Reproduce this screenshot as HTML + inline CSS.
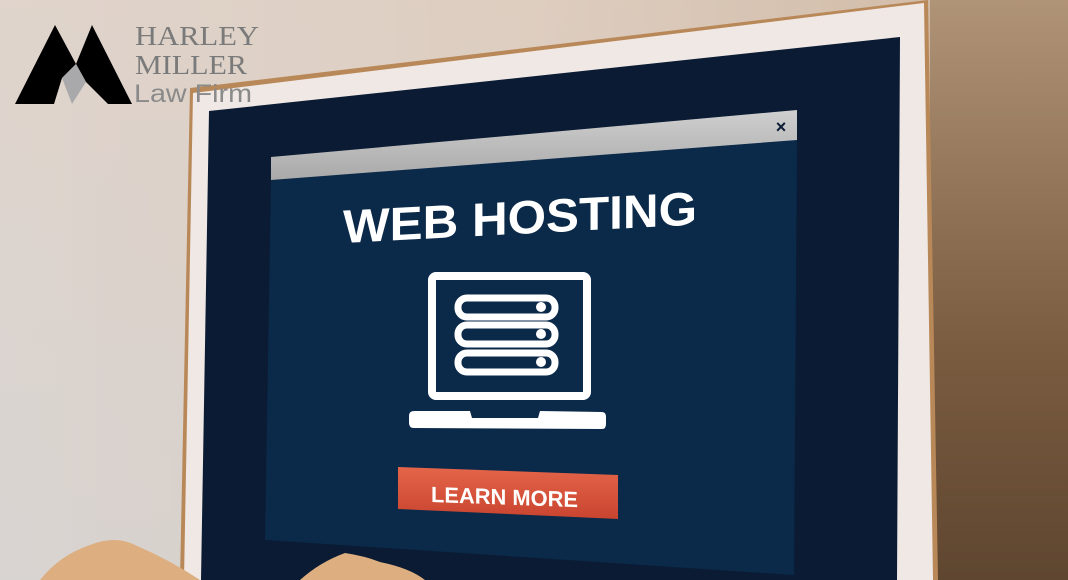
<!DOCTYPE html>
<html><head><meta charset="utf-8"><style>
html,body{margin:0;padding:0;width:1068px;height:580px;overflow:hidden}
</style></head><body>
<svg width="1068" height="580" viewBox="0 0 1068 580" xmlns="http://www.w3.org/2000/svg">
<defs>
<linearGradient id="bg" x1="0" y1="0" x2="1" y2="0">
<stop offset="0" stop-color="#d9d3cf"/><stop offset="0.5" stop-color="#d6c6b8"/><stop offset="0.85" stop-color="#c0a68c"/><stop offset="1" stop-color="#9d7e62"/>
</linearGradient>
<linearGradient id="bgv" x1="0" y1="0" x2="0" y2="1">
<stop offset="0" stop-color="#e6d5c8" stop-opacity="0.5"/><stop offset="1" stop-color="#d8d6d6" stop-opacity="0.4"/>
</linearGradient>
<linearGradient id="rt" x1="0" y1="0" x2="0" y2="1">
<stop offset="0" stop-color="#b09478"/><stop offset="0.6" stop-color="#7a5c40"/><stop offset="1" stop-color="#5f4630"/>
</linearGradient>
<linearGradient id="btn" x1="0" y1="0" x2="0" y2="1">
<stop offset="0" stop-color="#e4654a"/><stop offset="1" stop-color="#c9442f"/>
</linearGradient>
<linearGradient id="bar" x1="0" y1="0" x2="0" y2="1">
<stop offset="0" stop-color="#cfcfcf"/><stop offset="1" stop-color="#a9a9a9"/>
</linearGradient>
</defs>
<rect width="1068" height="580" fill="url(#bg)"/>
<rect width="1068" height="580" fill="url(#bgv)"/>
<rect x="930" y="0" width="138" height="580" fill="url(#rt)"/>
<!-- bezel -->
<polygon points="190,88 928,0 938,580 180,580" fill="#b98858"/>
<polygon points="193,93 924,3 933,580 184,580" fill="#efe8e4"/>
<!-- screen -->
<polygon points="209,111 900,37 897,580 201,580" fill="#0a1b33"/>
<!-- popup panel -->
<polygon points="271,178 797,138 794,575 265,540" fill="#0b2949"/>
<polygon points="271,157 797,110 797,140 271,180" fill="url(#bar)"/>
<text x="781" y="133" font-family="Liberation Sans, sans-serif" font-weight="bold" font-size="18" fill="#0a1b33" text-anchor="middle">×</text>
<!-- title -->
<g transform="translate(343,243) skewY(-3)">
<text x="0" y="0" font-family="Liberation Sans, sans-serif" font-weight="bold" font-size="47" fill="#fff" textLength="354" lengthAdjust="spacingAndGlyphs">WEB HOSTING</text>
</g>
<!-- icon -->
<rect x="432" y="276" width="155" height="120" rx="4" fill="none" stroke="#fff" stroke-width="8"/>
<g fill="none" stroke="#fff" stroke-width="7">
<rect x="458" y="298" width="97" height="19" rx="9"/>
<rect x="458" y="325" width="97" height="19" rx="9"/>
<rect x="458" y="353" width="97" height="19" rx="9"/>
</g>
<g fill="#fff"><circle cx="541" cy="307" r="5"/><circle cx="541" cy="334" r="5"/><circle cx="541" cy="362" r="5"/></g>
<path d="M414,411 L470,411 L472,418 L538,418 L540,411 L602,412 Q606,412 606,417 L606,424 Q606,429 602,429 L414,428 Q409,428 409,423 L409,416 Q409,411 414,411 Z" fill="#fff"/>
<!-- button -->
<polygon points="398,467 618,475 618,519 398,509" fill="url(#btn)"/>
<g transform="translate(431,502) skewY(2)">
<text x="0" y="0" font-family="Liberation Sans, sans-serif" font-weight="bold" font-size="22" fill="#fff" textLength="147" lengthAdjust="spacingAndGlyphs">LEARN MORE</text>
</g>
<!-- hands -->
<path d="M40,580 Q60,555 90,545 Q115,535 135,545 Q170,560 200,580 Z" fill="#dcae80"/>
<path d="M300,580 Q320,562 345,553 Q365,556 380,562 Q410,568 425,580 Z" fill="#dcae80"/>
<!-- logo -->
<polygon points="15,104 55,25 76,64 62,78 54,104" fill="#000"/>
<polygon points="76,64 92,25 132,104 108,104 86,82" fill="#000"/>
<polygon points="76,64 86,82 72,104 62,78" fill="#a9a9ab"/>
<g font-family="Liberation Serif, serif" fill="#7a7a7a">
<text x="135" y="45" font-size="27" textLength="124" lengthAdjust="spacingAndGlyphs">HARLEY</text>
<text x="135" y="74" font-size="27" textLength="112" lengthAdjust="spacingAndGlyphs">MILLER</text>
</g>
<text x="134" y="102" font-family="Liberation Sans, sans-serif" font-size="25" fill="#8a8a8a" textLength="118" lengthAdjust="spacingAndGlyphs">Law Firm</text>
</svg>
</body></html>
